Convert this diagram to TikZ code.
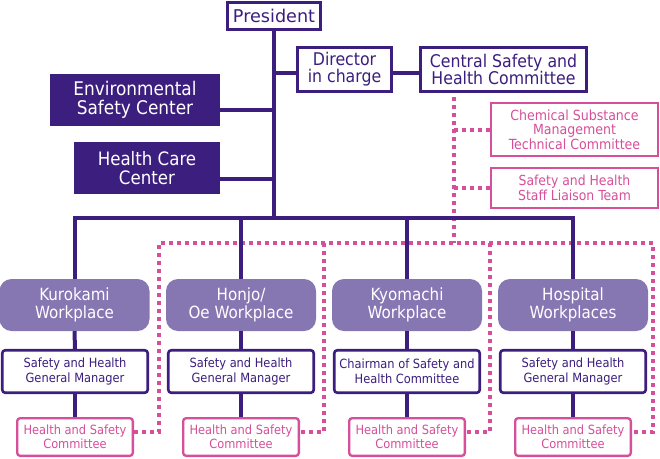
\documentclass[tikz,border=0pt]{standalone}
\usepackage{fontspec}
\setmainfont{DejaVu Sans Condensed}
\newfontfamily\wideface{DejaVu Sans}
\definecolor{purp}{HTML}{3C1E7F}
\definecolor{lav}{HTML}{8677B3}
\definecolor{pinkc}{HTML}{D64F9A}
\begin{document}
\begin{tikzpicture}[x=1pt,y=-1pt,
  purpline/.style={draw=purp, line width=4pt},
  dotline/.style={draw=pinkc, line width=4pt, dash pattern=on 4pt off 4pt},
  basebox/.style={inner sep=0pt, align=center, anchor=center},
  whitebox/.style={basebox, draw=purp, fill=white, line width=2.6pt, text=purp},
  darkbox/.style={basebox, fill=purp, text=white},
  wpbox/.style={basebox, fill=lav, text=white, rounded corners=12pt, minimum width=150pt, minimum height=52pt, font=\fontsize{16.8}{17.5}\selectfont},
  mgrbox/.style={whitebox, rounded corners=3pt, minimum width=145.5pt, minimum height=42.5pt, font=\fontsize{12.7}{14.5}\selectfont},
  pinkbox/.style={basebox, draw=pinkc, fill=white, line width=2.3pt, text=pinkc},
  hscbox/.style={pinkbox, rounded corners=3pt, minimum width=115.7pt, minimum height=37.7pt, font=\fontsize{12.7}{13.7}\selectfont}
]
\useasboundingbox (0,0) rectangle (660,458);

% coordinates
\coordinate (bus) at (274,218);
\coordinate (dy) at (0,73);
\coordinate (ey) at (0,110);
\coordinate (hy) at (0,179);
\coordinate (cdot) at (454,97);
\coordinate (dL) at (159,243);
\coordinate (dR) at (653,243);
\coordinate (d2) at (324,243);
\coordinate (d3) at (490,243);
\coordinate (sy) at (0,432);

% nodes
\node[whitebox, minimum width=93.4pt, minimum height=27.4pt, font=\wideface\fontsize{17.6}{19}\selectfont] (pres) at (274,16) {President};
\node[whitebox, minimum width=94.5pt, minimum height=44.5pt, font=\fontsize{17.5}{17}\selectfont] (dir) at (344.5,69.5) {Director\\in charge};
\node[whitebox, minimum width=166.5pt, minimum height=44.5pt, font=\fontsize{17.5}{17}\selectfont] (central) at (503.5,69.5) {Central Safety and\\Health Committee};
\node[darkbox, minimum width=170pt, minimum height=52pt, font=\fontsize{18.8}{19}\selectfont] (env) at (135,100) {Environmental\\Safety Center};
\node[darkbox, minimum width=146pt, minimum height=52pt, font=\fontsize{18.5}{19}\selectfont] (hcc) at (147,168) {Health Care\\Center};
\node[pinkbox, minimum width=166.7pt, minimum height=52.7pt, font=\fontsize{14}{14.5}\selectfont] (chem) at (574.5,129.5) {Chemical Substance\\Management\\Technical Committee};
\node[pinkbox, minimum width=166.7pt, minimum height=39.7pt, font=\fontsize{13.8}{15}\selectfont] (liaison) at (574.5,188) {Safety and Health\\Staff Liaison Team};

\node[wpbox] (w1) at (74.5,305) {Kurokami\\Workplace};
\node[wpbox] (w2) at (241,305) {Honjo/\\Oe Workplace};
\node[wpbox] (w3) at (407,305) {Kyomachi\\Workplace};
\node[wpbox] (w4) at (573,305) {Hospital\\Workplaces};

\node[mgrbox] (m1) at (75,371.5) {Safety and Health\\General Manager};
\node[mgrbox] (m2) at (241,371.5) {Safety and Health\\General Manager};
\node[mgrbox] (m3) at (407,371.5) {Chairman of Safety and\\Health Committee};
\node[mgrbox] (m4) at (573,371.5) {Safety and Health\\General Manager};

\node[hscbox] (h1) at (75,437) {Health and Safety\\Committee};
\node[hscbox] (h2) at (241,437) {Health and Safety\\Committee};
\node[hscbox] (h3) at (407,437) {Health and Safety\\Committee};
\node[hscbox] (h4) at (573,437) {Health and Safety\\Committee};

% dotted pink connectors
\draw[dotline] (cdot) -- (cdot |- dL);
\draw[dotline] (cdot |- chem.west) -- (chem.west);
\draw[dotline] (cdot |- liaison.west) -- (liaison.west);
\draw[dotline] (h1.east |- sy) -- (dL |- sy) -- (dL) -- (dR) -- (dR |- sy) -- (h4.east |- sy);
\draw[dotline] (d2) -- (d2 |- sy) -- (h2.east |- sy);
\draw[dotline] (d3) -- (d3 |- sy) -- (h3.east |- sy);

% purple connectors
\draw[purpline] (pres.south) -- (bus);
\draw[purpline] (pres.south |- dy) -- (dir.west |- dy);
\draw[purpline] (dir.east |- dy) -- (central.west |- dy);
\draw[purpline] (env.east |- ey) -- (bus |- ey);
\draw[purpline] (hcc.east |- hy) -- (bus |- hy);
\draw[purpline] (w1.north) -- (w1.north |- bus) -- (w4.north |- bus) -- (w4.north);
\draw[purpline] (w2.north |- bus) -- (w2.north);
\draw[purpline] (w3.north |- bus) -- (w3.north);
\foreach \i in {1,2,3,4} {
  \draw[purpline] (w\i.south) -- (m\i.north);
  \draw[purpline] (m\i.south) -- (h\i.north);
}
\end{tikzpicture}
\end{document}
